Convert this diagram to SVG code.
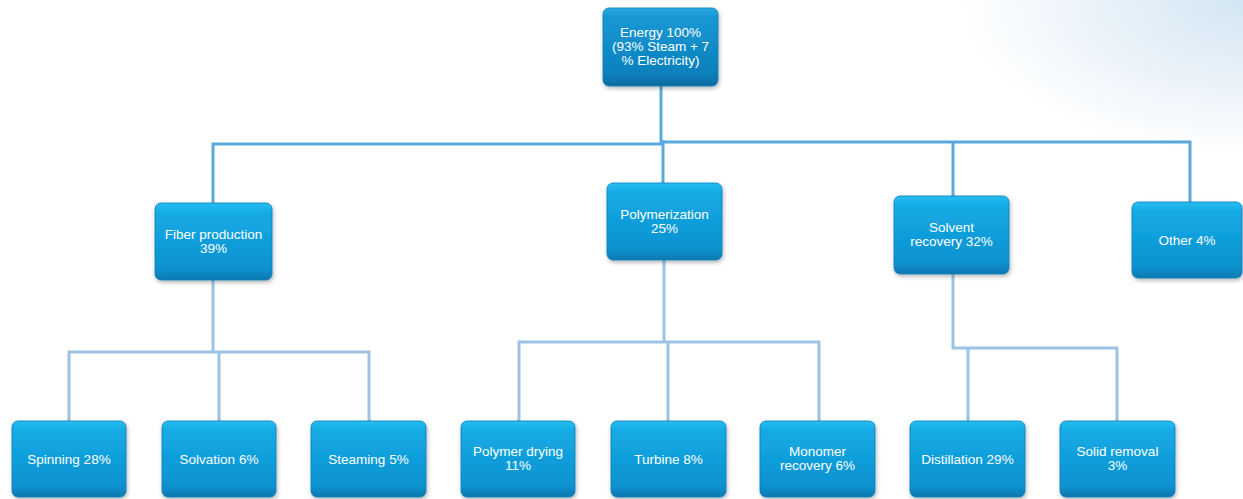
<svg xmlns="http://www.w3.org/2000/svg" width="1243" height="499" viewBox="0 0 1243 499">
<defs>
<radialGradient id="glow" cx="1243" cy="0" r="260" gradientUnits="userSpaceOnUse" gradientTransform="translate(1243 0) scale(1.1 0.6) translate(-1243 0)">
<stop offset="0" stop-color="#d3e5f3"/>
<stop offset="0.5" stop-color="#e9f2f9"/>
<stop offset="1" stop-color="#ffffff"/>
</radialGradient>
<linearGradient id="box" x1="0" y1="0" x2="0" y2="1">
<stop offset="0" stop-color="#27bdf0"/>
<stop offset="0.12" stop-color="#16abe6"/>
<stop offset="0.85" stop-color="#0a92d0"/>
<stop offset="1" stop-color="#0878b0"/>
</linearGradient>
<linearGradient id="boxTop" x1="0" y1="0" x2="0" y2="1">
<stop offset="0" stop-color="#2aa8e0"/>
<stop offset="0.12" stop-color="#1798d4"/>
<stop offset="0.85" stop-color="#0b80bc"/>
<stop offset="1" stop-color="#086a9c"/>
</linearGradient>
<filter id="sh" x="-10%" y="-10%" width="125%" height="130%">
<feDropShadow dx="1" dy="2" stdDeviation="2" flood-color="#000" flood-opacity="0.3"/>
</filter>
</defs>
<style>
.n rect{fill:url(#box);stroke:#0a7fb8;stroke-width:0.8;filter:url(#sh)}
#top rect{fill:url(#boxTop)}
.n text{font-family:"Liberation Sans",Arial,sans-serif;font-size:13.5px;fill:#ffffff;text-anchor:middle}
.c1{fill:none;stroke:#5aa9dc;stroke-width:3}
.c2{fill:none;stroke:#9cc3e4;stroke-width:3}
</style>
<rect width="1243" height="499" fill="#ffffff"/>
<rect width="1243" height="499" fill="url(#glow)"/>
<g id="connectors">
<path class="c1" d="M661 86 V144"/>
<path class="c1" d="M213 203 V144 H662"/>
<path class="c1" d="M662 142 H1190 V202"/>
<path class="c1" d="M663 140 V183"/>
<path class="c1" d="M953 142 V196"/>
<path class="c2" d="M213 280 V352"/>
<path class="c2" d="M69 421 V352 H369 V421"/>
<path class="c2" d="M219 352 V421"/>
<path class="c2" d="M664 260 V342"/>
<path class="c2" d="M519 421 V342 H819 V421"/>
<path class="c2" d="M668 342 V421"/>
<path class="c2" d="M953 274 V348 H1117 V421"/>
<path class="c2" d="M968 348 V421"/>
</g>
<g id="top" class="n"><rect x="603" y="8" width="115" height="78" rx="6"/>
<text x="660.5" y="37">Energy 100%</text><text x="660.5" y="51">(93% Steam + 7</text><text x="660.5" y="65">% Electricity)</text></g>
<g id="fiber" class="n"><rect x="155" y="203" width="117" height="77" rx="6"/>
<text x="213.5" y="239">Fiber production</text><text x="213.5" y="253">39%</text></g>
<g id="poly" class="n"><rect x="607" y="183" width="115" height="77" rx="6"/>
<text x="664.5" y="219">Polymerization</text><text x="664.5" y="233">25%</text></g>
<g id="solvent" class="n"><rect x="894" y="196" width="115" height="78" rx="6"/>
<text x="951.5" y="232">Solvent</text><text x="951.5" y="246">recovery 32%</text></g>
<g id="other" class="n"><rect x="1132" y="202" width="110" height="76" rx="6"/>
<text x="1187" y="244.5">Other 4%</text></g>
<g id="spinning" class="n"><rect x="12" y="421" width="114" height="76" rx="6"/>
<text x="69" y="463.5">Spinning 28%</text></g>
<g id="solvation" class="n"><rect x="162" y="421" width="114" height="76" rx="6"/>
<text x="219" y="463.5">Solvation 6%</text></g>
<g id="steaming" class="n"><rect x="311" y="421" width="115" height="76" rx="6"/>
<text x="368.5" y="463.5">Steaming 5%</text></g>
<g id="drying" class="n"><rect x="461" y="421" width="114" height="76" rx="6"/>
<text x="518" y="456">Polymer drying</text><text x="518" y="470">11%</text></g>
<g id="turbine" class="n"><rect x="611" y="421" width="115" height="76" rx="6"/>
<text x="668.5" y="463.5">Turbine 8%</text></g>
<g id="monomer" class="n"><rect x="760" y="421" width="115" height="76" rx="6"/>
<text x="817.5" y="456">Monomer</text><text x="817.5" y="470">recovery 6%</text></g>
<g id="distillation" class="n"><rect x="910" y="421" width="115" height="76" rx="6"/>
<text x="967.5" y="463.5">Distillation 29%</text></g>
<g id="solid" class="n"><rect x="1060" y="421" width="115" height="76" rx="6"/>
<text x="1117.5" y="456">Solid removal</text><text x="1117.5" y="470">3%</text></g>
</svg>
